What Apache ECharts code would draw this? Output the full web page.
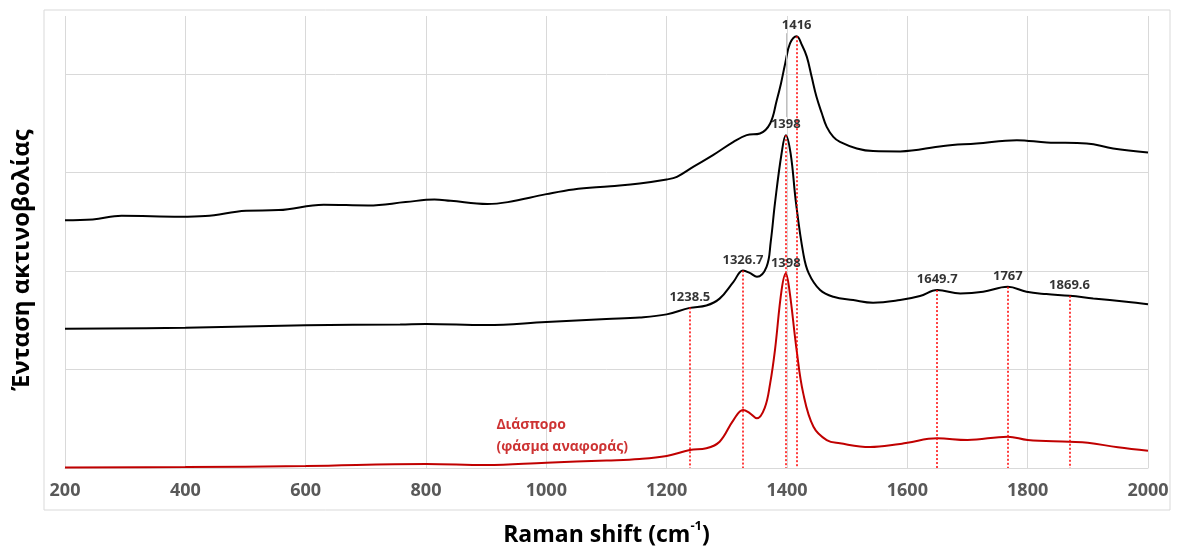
<!DOCTYPE html>
<html>
<head>
<meta charset="utf-8">
<script src="https://cdn.jsdelivr.net/npm/echarts@6/dist/echarts.min.js"></script>
<style>
  html, body { margin: 0; background: #fff; }
  #chart { width: 1179px; height: 550px; }
</style>
</head>
<body>
<div id="chart"></div>
<script>
// x ticks
var xTicks = [200, 400, 600, 800, 1000, 1200, 1400, 1600, 1800, 2000];

// upper spectrum (black)
var topShift = [200, 246, 294, 392, 433, 501, 555, 630, 704, 766, 814, 841, 902, 936, 1000, 1045, 1107, 1155, 1200, 1217, 1244, 1277, 1311, 1333, 1355, 1372, 1383, 1390, 1397, 1405, 1416, 1425, 1433, 1441, 1449, 1458, 1466, 1477, 1488, 1516, 1543, 1588, 1660, 1715, 1782, 1832, 1898, 1942, 2000];
var topInt = [2517, 2524, 2561, 2551, 2558, 2612, 2619, 2673, 2666, 2700, 2727, 2713, 2680, 2700, 2781, 2829, 2862, 2890, 2930, 2957, 3058, 3177, 3312, 3380, 3397, 3499, 3735, 3905, 4108, 4311, 4385, 4293, 4175, 3972, 3769, 3600, 3464, 3363, 3312, 3245, 3218, 3215, 3271, 3296, 3329, 3306, 3296, 3245, 3204];

// middle spectrum (black)
var midShift = [200, 400, 600, 757, 800, 900, 1000, 1100, 1155, 1200, 1238.5, 1266, 1288, 1311, 1326.7, 1338, 1350, 1366, 1373, 1380, 1391, 1398, 1406, 1415, 1427, 1436, 1455, 1477, 1510, 1543, 1588, 1621, 1649.7, 1688, 1726, 1767, 1798, 1831, 1870, 1909, 1964, 2000];
var midInt = [1414, 1425, 1449, 1457, 1462, 1451, 1482, 1512, 1528, 1560, 1626, 1650, 1720, 1890, 2005, 1982, 1942, 2043, 2300, 2690, 3194, 3380, 3194, 2690, 2182, 1979, 1807, 1739, 1705, 1678, 1705, 1746, 1807, 1773, 1789, 1840, 1789, 1766, 1749, 1722, 1688, 1662];

// reference spectrum (red)
var refShift = [200, 400, 600, 800, 900, 1000, 1100, 1155, 1200, 1238.5, 1266, 1288, 1311, 1327, 1338, 1350, 1363, 1372, 1380, 1391, 1398, 1404, 1416, 1427, 1444, 1466, 1488, 1538, 1588, 1600, 1649.7, 1700, 1767, 1800, 1869.6, 1900, 1950, 2000];
var refInt = [5, 10, 20, 41, 30, 54, 76, 91, 122, 183, 200, 267, 487, 589, 558, 504, 610, 860, 1198, 1807, 1976, 1807, 1198, 758, 419, 284, 251, 213, 244, 257, 301, 284, 318, 284, 267, 257, 210, 176];

// peak labels
var peakShift = [1238.5, 1326.7, 1398, 1398, 1416, 1649.7, 1767, 1869.6];
var peakInt = [1626, 2005, 3380, 1976, 4385, 1807, 1840, 1749];
var peakText = ['1238.5', '1326.7', '1398', '1398', '1416', '1649.7', '1767', '1869.6'];

// dotted guide lines
var lineShift = [1238.5, 1326.7, 1398, 1416, 1649.7, 1767, 1869.6];
var lineTop = [1631, 2005, 3380, 4385, 1807, 1840, 1749];

var refNote = [917, 325];

var FONT = '"Open Sans", "Noto Sans", sans-serif';

function pairs(xs, ys) {
  return xs.map(function (x, i) { return [x, ys[i]]; });
}

var myChart = echarts.init(document.getElementById('chart'));

var spectrumLine = function (name, xs, ys, color) {
  return {
    name: name,
    type: 'line',
    data: pairs(xs, ys),
    showSymbol: false,
    smooth: 0.4,
    lineStyle: { color: color, width: 2 },
    z: 3
  };
};

var option = {
  animation: false,
  backgroundColor: '#fff',
  grid: { left: 65, right: 31, top: 16, bottom: 82, outerBoundsMode: 'none' },
  xAxis: {
    type: 'value',
    min: 200,
    max: 2000,
    interval: 200,
    name: '{a|Raman shift (cm}{s|-1}{a|)}',
    nameLocation: 'middle',
    nameGap: 52,
    nameTextStyle: {
      rich: {
        a: { fontFamily: FONT, fontWeight: 'bold', fontSize: 23, color: '#000', lineHeight: 30 },
        s: { fontFamily: FONT, fontWeight: 'bold', fontSize: 13, color: '#000', lineHeight: 16, verticalAlign: 'top' }
      }
    },
    axisLine: { show: true, lineStyle: { color: '#d9d9d9', width: 1 } },
    axisTick: { show: false },
    axisLabel: {
      margin: 14,
      color: '#595959',
      fontFamily: FONT,
      fontWeight: 'bold',
      fontSize: 18,
      formatter: function (v) { return xTicks.indexOf(v) >= 0 ? String(v) : ''; }
    },
    splitLine: { show: true, lineStyle: { color: '#d9d9d9', width: 1 } }
  },
  yAxis: {
    type: 'value',
    min: 0,
    max: 4590,
    interval: 1000,
    axisLine: { show: false },
    axisTick: { show: false },
    axisLabel: { show: false },
    splitLine: { show: true, showMaxLine: false, lineStyle: { color: '#d9d9d9', width: 1 } }
  },
  graphic: [
    {
      type: 'rect',
      shape: { x: 44, y: 10, width: 1126, height: 500 },
      style: { fill: 'none', stroke: '#d9d9d9', lineWidth: 1 },
      silent: true,
      z: -10
    },
    {
      type: 'text',
      x: 22,
      y: 260,
      rotation: Math.PI / 2,
      style: {
        text: 'Ένταση ακτινοβολίας',
        font: 'bold 24px ' + FONT,
        fill: '#000',
        align: 'center',
        verticalAlign: 'middle'
      }
    }
  ],
  series: [
    spectrumLine('top', topShift, topInt, '#000000'),
    spectrumLine('middle', midShift, midInt, '#000000'),
    spectrumLine('ref', refShift, refInt, '#c00000'),
    {
      name: 'peaks',
      type: 'scatter',
      symbolSize: 0,
      silent: true,
      z: 5,
      data: pairs(peakShift, peakInt).map(function (p, i) {
        return { value: p, label: { formatter: peakText[i] } };
      }),
      label: {
        show: true,
        position: 'top',
        distance: 4,
        color: '#000',
        fontFamily: FONT,
        fontWeight: 'bold',
        fontSize: 13
      },
      markLine: {
        silent: true,
        symbol: ['none', 'none'],
        label: { show: false },
        z: 4,
        data: lineShift.map(function (x, i) {
          return [
            { coord: [x, lineTop[i]], lineStyle: { color: '#ff0000', width: 1.5, type: [2, 2] } },
            { coord: [x, 0] }
          ];
        }).concat([[
          { coord: [1398, 3563], lineStyle: { color: '#bfbfbf', width: 1, type: 'solid' } },
          { coord: [1398, 4415] }
        ]])
      }
    },
    {
      name: 'note',
      type: 'scatter',
      symbolSize: 0,
      silent: true,
      z: 5,
      data: [refNote],
      label: {
        show: true,
        position: 'right',
        distance: 0,
        align: 'left',
        formatter: 'Διάσπορο\n(φάσμα αναφοράς)',
        color: '#c00000',
        fontFamily: FONT,
        fontWeight: 'bold',
        fontSize: 14,
        lineHeight: 22
      }
    }
  ]
};

myChart.setOption(option);
</script>
</body>
</html>
